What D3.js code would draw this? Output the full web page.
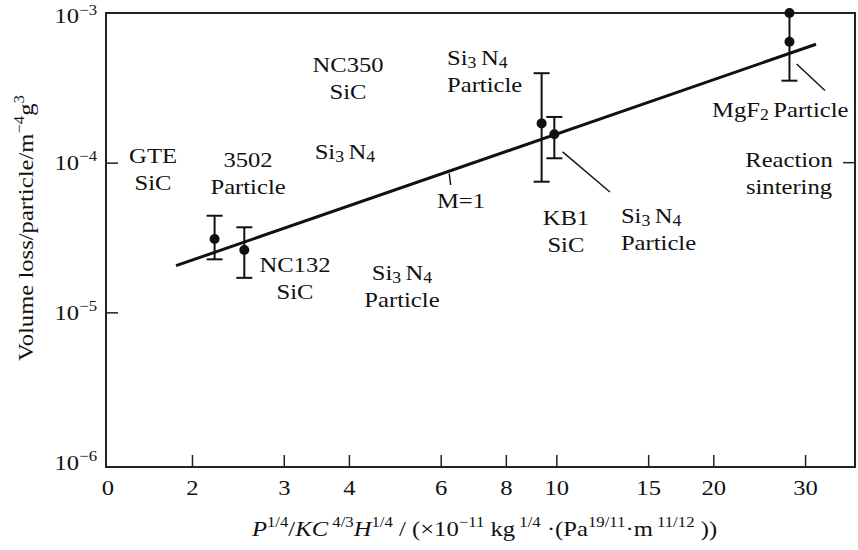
<!DOCTYPE html>
<html><head><meta charset="utf-8">
<script src="https://cdn.jsdelivr.net/npm/d3@7"></script>
<style>
body{margin:0;background:#fff}
svg text, svg tspan{font-family:"Liberation Serif","Tinos","Times New Roman","DejaVu Serif",serif;fill:#111}
</style>
</head><body>
<svg id="c" width="858" height="550"></svg>
<script>
// ---------- data ----------
const xTicks = [2, 3, 4, 6, 8, 10, 15, 20, 30];
const xZeroLabel = "0";
const yTicks = [1e-6, 1e-5, 1e-4, 1e-3];
const yTickExponents = ["−6", "−5", "−4", "−3"];

const pointX = [2.21, 2.52, 9.37, 9.91, 28.0, 28.0];
const pointY = [3.09e-5, 2.61e-5, 1.83e-4, 1.55e-4, 1.0e-3, 6.43e-4];

const errX    = [2.21, 2.52, 9.37, 9.91, 28.0];
const errLow  = [2.26e-5, 1.70e-5, 7.46e-5, 1.07e-4, 3.53e-4];
const errHigh = [4.42e-5, 3.70e-5, 3.96e-4, 2.02e-4, 1.0e-3];
const errTopCap = [true, true, true, true, false];

const fitX = [1.864, 31.48];
const fitY = [2.05e-5, 6.18e-4];

const leaderX1 = [6.23, 10.28, 28.9];
const leaderY1 = [8.49e-5, 1.18e-4, 4.56e-4];
const leaderX2 = [6.27, 12.67, 32.75];
const leaderY2 = [7.09e-5, 6.37e-5, 3.03e-4];

const labelLines = [["GTE","SiC"],["3502","Particle"],["NC350","SiC"],["Si_3 N_4"],
  ["Si_3 N_4","Particle"],["M=1"],["NC132","SiC"],["Si_3 N_4","Particle"],
  ["KB1","SiC"],["Si_3 N_4","Particle"],["MgF_2 Particle"],["Reaction","sintering"]];
const labelX = [1.684, 2.562, 3.984, 3.93, 6.17, 5.90, 3.152, 5.056, 10.43, 13.30, 19.89, 27.94];
const labelY = [9.95e-5, 9.36e-5, 4.03e-4, 1.058e-4, 4.49e-4, 4.98e-5, 1.86e-5, 1.644e-5, 3.83e-5, 3.95e-5, 2.02e-4, 9.36e-5];
const labelAnchor = ["middle","middle","middle","middle","start","start","middle","middle","middle","start","start","middle"];

const yTitle = [["Volume loss/particle/m","n"],["−4","sup"],["g","n"],["3","sup"]];
const xTitle = [["P","i"],["1/4","sup"],["/","n"],["KC","i"],[" 4/3","sup"],["H","i"],["1/4","sup"],
  [" / (×10","n"],["−11","sup"],[" kg","n"],[" 1/4","sup"],[" ·(Pa","n"],["19/11","sup"],["·m","n"],[" 11/12","sup"],[" ))","n"]];

// ---------- layout ----------
const FS = 22;
const SX = 1.12;
const LINE = 27;
const FONT = '"Liberation Serif","Tinos","Times New Roman","DejaVu Serif",serif';
const plot = {left:106, right:855, top:13, bottom:467};
const svg = d3.select("#c");
const x = d3.scaleLog().domain([1.368, 37.4]).range([plot.left, plot.right]);
const y = d3.scaleLog().domain([1e-6, 1e-3]).range([462, 13]);

function rich(t, segs, fs){
  let shift = 0;
  t.attr("font-family", FONT);
  segs.forEach(([s,k])=>{
    const ts = t.append("tspan").text(s);
    let target = 0, size = fs;
    if(k==="sup"){ target = -0.4*fs; size = fs*0.68; }
    if(k==="sub"){ target = 0.14*fs; size = fs*0.72; }
    if(k==="i") ts.attr("font-style","italic");
    ts.attr("font-size", size);
    if(target !== shift){ ts.attr("dy", target - shift); shift = target; }
  });
}
function parseLabel(str){
  const segs = [];
  const re = /_(\d ?)|([^_]+)/g; let m;
  while((m = re.exec(str))){
    if(m[1]) segs.push([m[1],"sub"]); else segs.push([m[2],"n"]);
  }
  return segs;
}

// frame
svg.append("rect").attr("x",plot.left).attr("y",plot.top)
  .attr("width",plot.right-plot.left).attr("height",plot.bottom-plot.top)
  .attr("fill","none").attr("stroke","#222").attr("stroke-width",2);

// x axis
const xAxis = svg.append("g").attr("transform",`translate(0,${plot.bottom})`)
  .call(d3.axisBottom(x).tickValues(xTicks).tickFormat(d3.format("d"))
        .tickSizeInner(-12).tickSizeOuter(0).tickPadding(12));
xAxis.attr("font-family", FONT);
xAxis.select(".domain").remove();
xAxis.selectAll(".tick line").attr("stroke","#222").attr("stroke-width",1.5);
xAxis.selectAll("text").attr("font-size",FS).attr("font-family",FONT).attr("fill","#111")
  .attr("transform",`scale(${SX},1)`);
xAxis.append("text").attr("transform",`translate(${x.range()[0]+2},0) scale(${SX},1)`).attr("y",12).attr("dy","0.71em")
  .attr("text-anchor","middle").attr("font-size",FS).attr("font-family",FONT).attr("fill","#111").text(xZeroLabel);

// y axis
const yAxis = svg.append("g").attr("transform",`translate(${plot.left},0)`)
  .call(d3.axisLeft(y).tickValues(yTicks).tickFormat(()=>"")
        .tickSizeInner(-12).tickSizeOuter(0).tickPadding(9));
yAxis.attr("font-family", FONT);
yAxis.select(".domain").remove();
yAxis.selectAll(".tick line").attr("stroke","#222").attr("stroke-width",1.5)
  .attr("display",d=> (d===1e-6||d===1e-3) ? "none" : null);
yAxis.selectAll(".tick text").each(function(d,i){
  const t = d3.select(this).attr("fill","#111").attr("font-size",FS)
    .attr("dy", i===3 ? "0.45em" : "0.32em").attr("transform",`scale(${SX},1)`)
    .attr("x", -9/SX);
  t.text(null);
  rich(t, [["10","n"],[yTickExponents[i],"sup"]], FS);
});
// right-side tick at 1e-4
svg.append("line").attr("x1",plot.right-12).attr("x2",plot.right)
  .attr("y1",y(1e-4)).attr("y2",y(1e-4)).attr("stroke","#222").attr("stroke-width",1.5);

// axis titles
const yt = svg.append("text").attr("transform",`translate(33,228) rotate(-90) scale(${SX},1)`)
  .attr("text-anchor","middle").attr("font-size",FS);
rich(yt, yTitle, FS);
const xt = svg.append("text").attr("transform",`translate(${(plot.left+plot.right)/2+4},536) scale(${SX},1)`)
  .attr("text-anchor","middle").attr("font-size",FS);
rich(xt, xTitle, FS);

// fit line
svg.append("line").attr("x1",x(fitX[0])).attr("y1",y(fitY[0]))
  .attr("x2",x(fitX[1])).attr("y2",y(fitY[1])).attr("stroke","#111").attr("stroke-width",3);

// error bars
errX.forEach((v,i)=>{
  const g = svg.append("g").attr("stroke","#111").attr("stroke-width",2);
  g.append("line").attr("x1",x(v)).attr("x2",x(v)).attr("y1",y(errLow[i])).attr("y2",y(errHigh[i]));
  g.append("line").attr("x1",x(v)-8).attr("x2",x(v)+8).attr("y1",y(errLow[i])).attr("y2",y(errLow[i]));
  if(errTopCap[i]) g.append("line").attr("x1",x(v)-8).attr("x2",x(v)+8).attr("y1",y(errHigh[i])).attr("y2",y(errHigh[i]));
});
// points
svg.selectAll("circle.pt").data(pointX).join("circle").attr("class","pt")
  .attr("cx",d=>x(d)).attr("cy",(d,i)=>y(pointY[i])).attr("r",5).attr("fill","#111");

// leader lines
leaderX1.forEach((v,i)=>{
  svg.append("line").attr("x1",x(v)).attr("y1",y(leaderY1[i]))
    .attr("x2",x(leaderX2[i])).attr("y2",y(leaderY2[i])).attr("stroke","#111").attr("stroke-width",1.4);
});

// labels
labelLines.forEach((lines,i)=>{
  lines.forEach((ln,j)=>{
    const t = svg.append("text")
      .attr("transform",`translate(${x(labelX[i])},${y(labelY[i]) + j*LINE}) scale(${SX},1)`)
      .attr("text-anchor",labelAnchor[i]).attr("font-size",FS);
    rich(t, parseLabel(ln), FS);
  });
});
</script>
</body></html>
